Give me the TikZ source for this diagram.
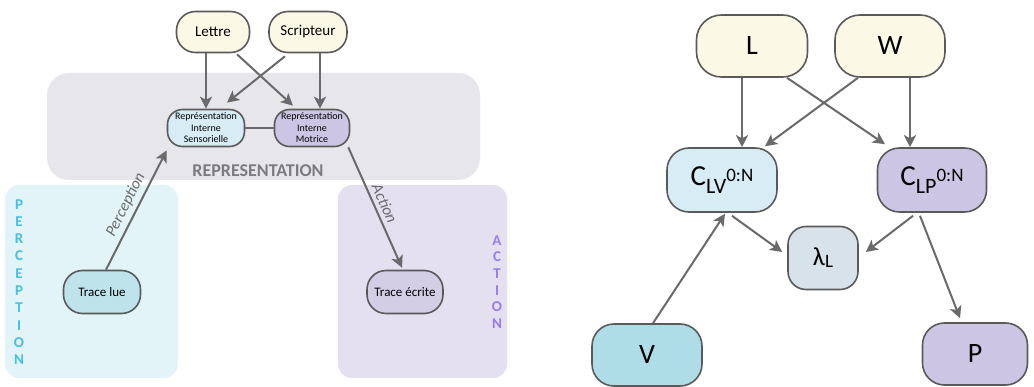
\documentclass[tikz,border=0pt]{standalone}
\usepackage{fontspec}
\setmainfont{Carlito}
\usetikzlibrary{arrows.meta,calc}
\definecolor{bordc}{HTML}{5A5A5A}
\definecolor{arrc}{HTML}{6A6A6A}
\definecolor{cream}{HTML}{FCF8E6}
\definecolor{bluel}{HTML}{D7ECF5}
\definecolor{bluem}{HTML}{BFE3EA}
\definecolor{blued}{HTML}{AEDDE8}
\definecolor{purpl}{HTML}{CCC6E4}
\definecolor{purpm}{HTML}{D3CDE6}
\definecolor{lamc}{HTML}{D8E2EA}
\definecolor{bandc}{HTML}{E7E7EB}
\definecolor{percbg}{HTML}{E3F4F9}
\definecolor{actbg}{HTML}{E4E0F0}
\definecolor{perctxt}{HTML}{45C0E6}
\definecolor{acttxt}{HTML}{9B7BF0}
\definecolor{reptxt}{HTML}{7B7B80}
\tikzset{
  x=1pt,y=-1pt,
  nd/.style={draw=bordc,line width=1.6pt,rounded corners=#1,inner sep=0pt,align=center},
  arr/.style={draw=arrc,line width=2pt,-{Stealth[length=12pt,width=12pt,inset=3pt]}},
  lnk/.style={draw=arrc,line width=2pt},
  lbl/.style={font=\itshape\fontsize{16}{18}\selectfont,text=arrc,sloped,above=3pt,inner sep=1pt}
}
\newcommand{\Csub}[2]{C\raisebox{-8pt}{\fontsize{22}{22}\selectfont #1}\raisebox{4pt}{\fontsize{19}{19}\selectfont #2}}
\begin{document}
\begin{tikzpicture}
\useasboundingbox (0,0) rectangle (1034,387);
\fill[white] (0,0) rectangle (1034,387);
% background areas
\fill[bandc,rounded corners=22pt] (47,73) rectangle (480,180);
\fill[percbg,rounded corners=14pt] (5,185) rectangle (178,378);
\fill[actbg,rounded corners=14pt] (338,185) rectangle (507,378);
\node[font=\bfseries\fontsize{18}{20}\selectfont,text=reptxt] (reptitle) at (258,171) {REPRESENTATION};
\node[font=\bfseries\fontsize{15}{17.3}\selectfont,text=perctxt,align=center,inner sep=0pt] (perctitle) at (19,282) {P\\E\\R\\C\\E\\P\\T\\I\\O\\N};
\node[font=\bfseries\fontsize{15}{16.6}\selectfont,text=acttxt,align=center,inner sep=0pt] (acttitle) at (497,282) {A\\C\\T\\I\\O\\N};
% left nodes
\node[nd=19pt,fill=cream,minimum width=73pt,minimum height=41pt,font=\fontsize{15}{17}\selectfont] (lettre) at (213,32) {Lettre};
\node[nd=19pt,fill=cream,minimum width=78pt,minimum height=41pt,font=\fontsize{15}{17}\selectfont] (scrip) at (308,32) {Scripteur};
\node[nd=15pt,fill=bluel,minimum width=77pt,minimum height=37pt,font=\fontsize{10}{11.5}\selectfont] (sens) at (206,128) {Représentation\\Interne\\Sensorielle};
\node[nd=15pt,fill=purpl,minimum width=75pt,minimum height=37pt,font=\fontsize{10}{11.5}\selectfont] (motr) at (312,128) {Représentation\\Interne\\Motrice};
\node[nd=19pt,fill=bluem,minimum width=77pt,minimum height=43pt,font=\fontsize{13}{15}\selectfont] (tlue) at (102,292) {Trace lue};
\node[nd=19pt,fill=purpm,minimum width=76pt,minimum height=43pt,font=\fontsize{13}{15}\selectfont] (tecr) at (405,292) {Trace écrite};
% left connectors
\draw[arr] (lettre.south -| sens.north) -- (sens.north);
\draw[arr] ($(scrip.south)+(12,0)$) -- ($(motr.north)+(8,0)$);
\draw[arr] ($(lettre.south)+(24,1)$) -- ($(motr.north)+(-19,-3)$);
\draw[arr] ($(scrip.south)+(-23,3)$) -- ($(sens.north)+(21,-6)$);
\draw[lnk] (sens.east) -- (motr.west);
\draw[arr] ($(tlue.north)+(4,0)$) -- node[lbl] {Perception} ($(sens.south west)+(0,3)$);
\draw[arr] ($(motr.south east)+(-2,0)$) -- node[lbl] {Action} ($(tecr.north)+(-3,-2)$);
% right nodes
\node[nd=25pt,fill=cream,minimum width=111pt,minimum height=62pt,font=\fontsize{28}{30}\selectfont] (L) at (752,46) {L};
\node[nd=25pt,fill=cream,minimum width=110pt,minimum height=62pt,font=\fontsize{28}{30}\selectfont] (W) at (890,46) {W};
\node[nd=22pt,fill=bluel,minimum width=110pt,minimum height=64pt,font=\fontsize{29}{30}\selectfont] (clv) at (722,180) {\Csub{LV}{0:N}};
\node[nd=22pt,fill=purpl,minimum width=109pt,minimum height=64pt,font=\fontsize{29}{30}\selectfont] (clp) at (932,180) {\Csub{LP}{0:N}};
\node[nd=18pt,fill=lamc,minimum width=70pt,minimum height=63pt,font=\fontsize{26}{28}\selectfont] (lam) at (823,258) {λ\raisebox{-2pt}{\fontsize{19}{19}\selectfont L}};
\node[nd=22pt,fill=blued,minimum width=110pt,minimum height=62pt,font=\fontsize{28}{30}\selectfont] (V) at (647,355) {V};
\node[nd=22pt,fill=purpl,minimum width=105pt,minimum height=62pt,font=\fontsize{28}{30}\selectfont] (P) at (975,354) {P};
% right connectors
\draw[arr] ($(L.south)+(-10,0)$) -- ($(clv.north)+(20,0)$);
\draw[arr] ($(W.south)+(20,0)$) -- ($(clp.north)+(-22,0)$);
\draw[arr] ($(L.south)+(35,0)$) -- ($(clp.north)+(-47,-3)$);
\draw[arr] ($(W.south)+(-32,0)$) -- ($(clv.north)+(43,-1)$);
\draw[arr] ($(V.north)+(6,0)$) -- ($(clv.south)+(3,1)$);
\draw[arr] ($(clv.south)+(10,3)$) -- ($(lam.west)+(-5,-6)$);
\draw[arr] ($(clp.south)+(-19,3)$) -- ($(lam.east)+(7,-6)$);
\draw[arr] ($(clp.south)+(-12,3)$) -- ($(P.north)+(-15,-4)$);
\end{tikzpicture}
\end{document}
